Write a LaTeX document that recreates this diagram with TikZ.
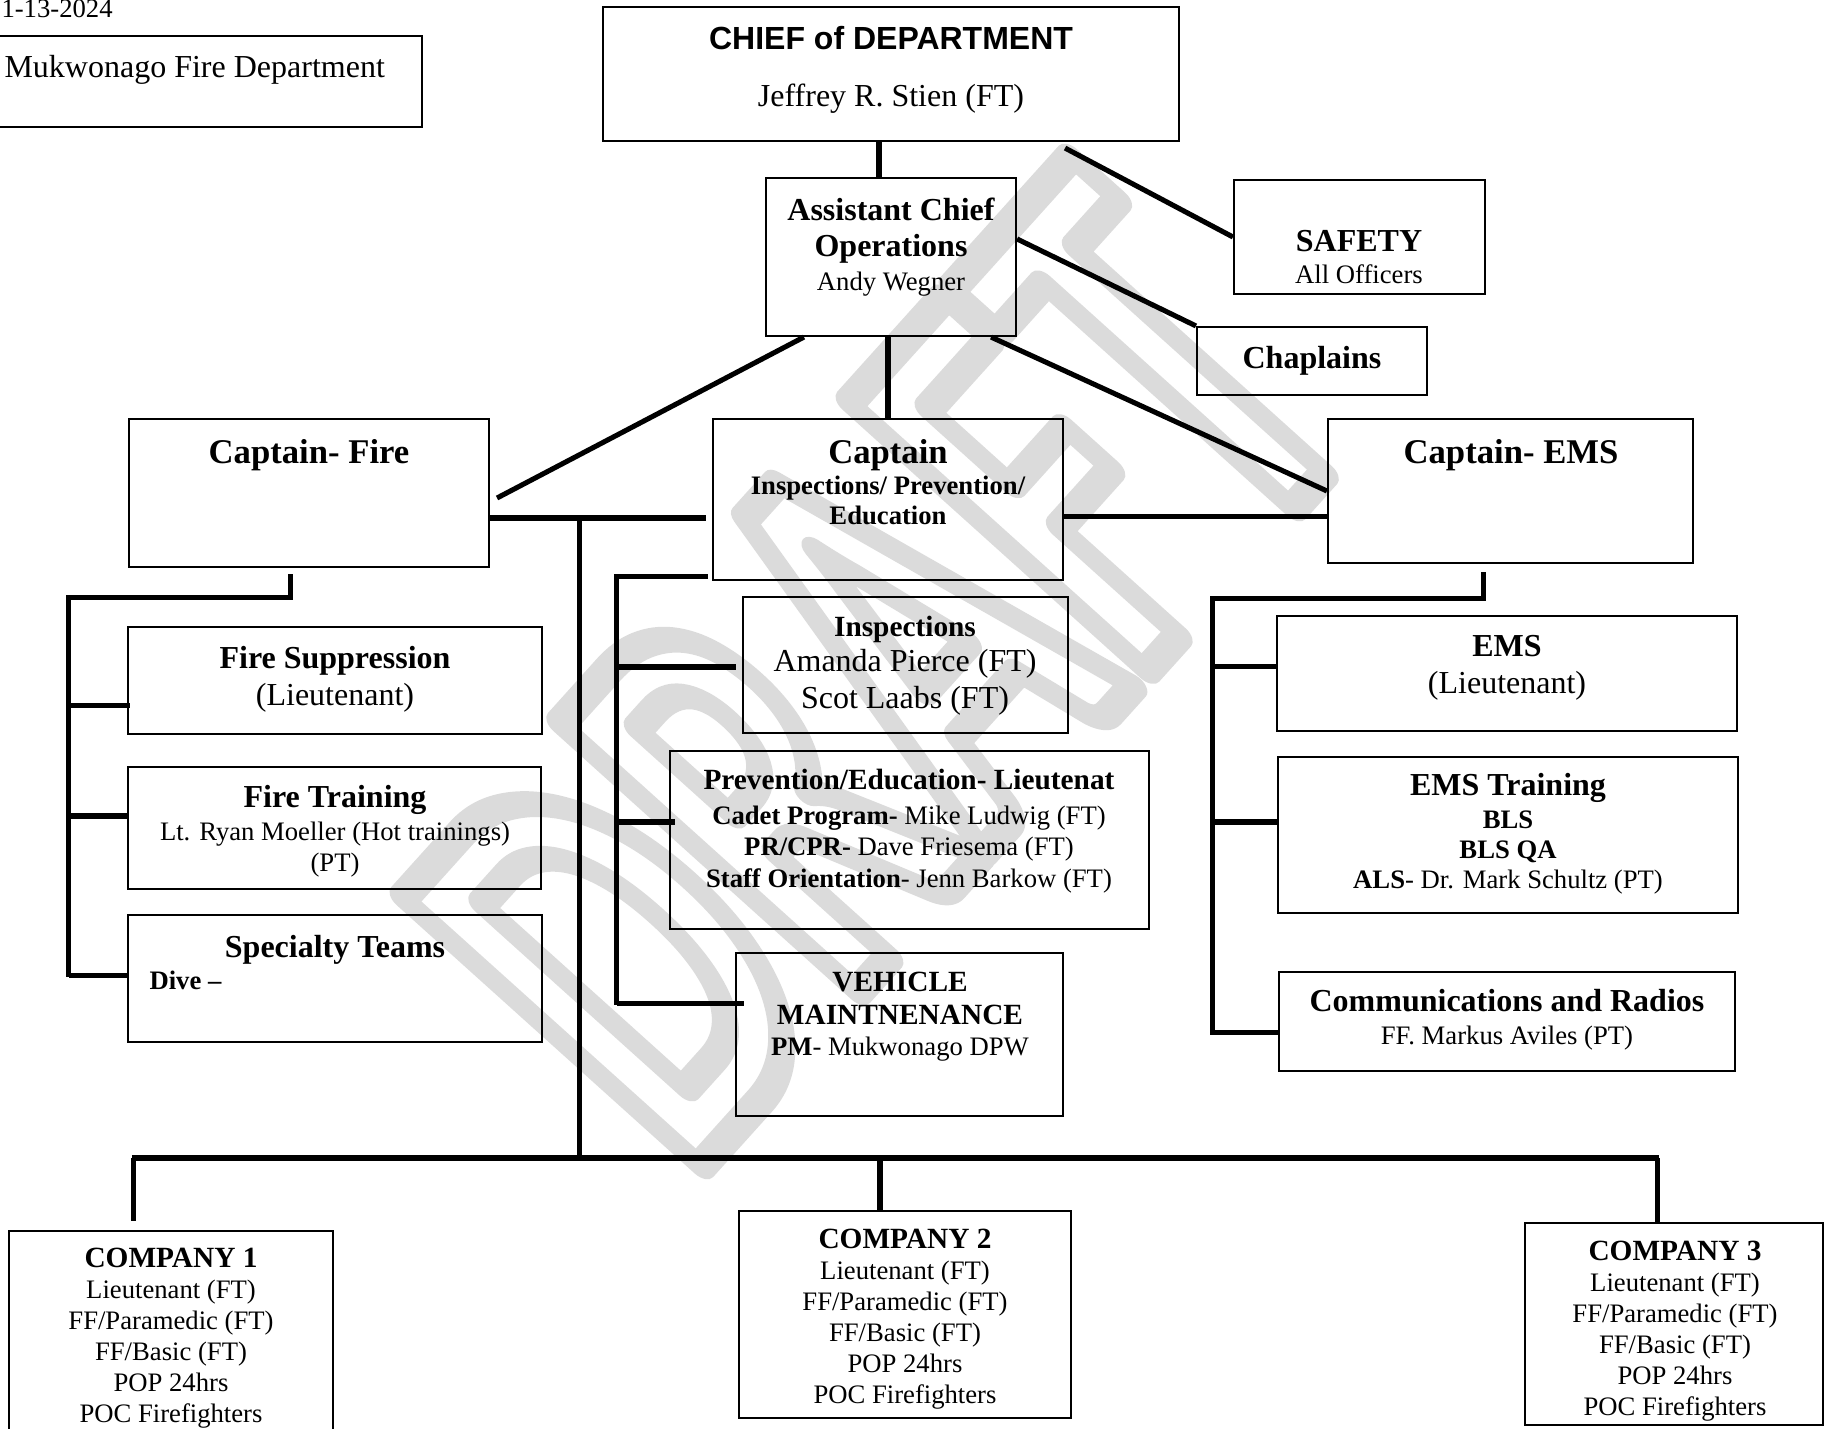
\documentclass[tikz,border=0pt]{standalone}
\usepackage{fontspec}
\setmainfont{Liberation Serif}
\newfontfamily\arialfont{Liberation Sans}
\newfontfamily\wmfont{Carlito}
\usetikzlibrary{calc, fit}
\newcommand\capsz{\fontsize{13}{15}\selectfont\bfseries}
\newcommand\hdsz{\fontsize{12}{13.8}\selectfont\bfseries}
\newcommand\midsz{\fontsize{11}{12.6}\selectfont\bfseries}
\newcommand\smsz{\fontsize{10}{11.6}\selectfont}
\newcommand\hollow[1]{\special{pdf:literal direct 1 Tr 12 w 1 j}#1\special{pdf:literal direct 0 Tr}}

\begin{document}
\begin{tikzpicture}[x=0.375pt, y=-0.375pt,
    box/.style={draw, line width=0.8pt, inner sep=0pt},
    txt/.style={align=center, inner sep=0pt, font=\fontsize{12}{#1}\selectfont},
    txt/.default=13.8,
    conn/.style={line width=1.9pt},
    mainbar/.style={line width=2.3pt}]
\useasboundingbox (0,0) rectangle (1825,1429);

% --- watermark ---
\begin{scope}[shift={(880,668)}, rotate=48, xscale=0.6]
\node[transform shape, inner sep=0pt, text=gray!28,
  font=\wmfont\bfseries\fontsize{232}{232}\selectfont] (draft) {\hollow{DRAFT}};
\end{scope}

% --- header ---
\node[txt, anchor=base west, font=\smsz] (date) at (1,18) {1-13-2024};
\node[box, fit={(-10,36)(422,127)}] (mfd) {};
\node[txt, anchor=west] (mfd-txt) at (4,70) {Mukwonago Fire Department};

% --- command staff ---
\node[box, fit={(603,7)(1179,141)}] (chief) {};
\node[txt] (chief-txt) at (891,70) {%
  {\arialfont\bfseries CHIEF of DEPARTMENT}\\[7.6pt] Jeffrey R. Stien (FT)};
\node[box, fit={(766,178)(1016,336)}] (asst) {};
\node[txt=12.6] (asst-txt) at (891,247) {%
  {\hdsz Assistant Chief}\\[0.9pt]{\hdsz Operations}\\{\smsz Andy Wegner}};
\node[box, fit={(1234,180)(1485,294)}] (safety) {};
\node[txt=12.2] (safety-txt) at (1359,257) {{\hdsz SAFETY}\\{\smsz All Officers}};
\node[box, fit={(1197,327)(1427,395)}] (chap) {};
\node[txt] (chap-txt) at (1312,361) {{\hdsz Chaplains}};

% --- captains ---
\node[box, fit={(129,419)(489,567)}] (capfire) {};
\node[txt] (capfire-txt) at (309,455) {{\capsz Captain- Fire}};
\node[box, fit={(713,419)(1063,580)}] (capctr) {};
\node[txt=11.3] (capctr-txt) at (888,482) {%
  {\capsz Captain}\\[0.5pt]{\smsz\bfseries Inspections/ Prevention/}\\{\smsz\bfseries Education}};
\node[box, fit={(1328,419)(1693,563)}] (capems) {};
\node[txt] (capems-txt) at (1511,455) {{\capsz Captain- EMS}};

% --- fire divisions ---
\node[box, fit={(128,627)(542,734)}] (supp) {};
\node[txt=14] (supp-txt) at (335,679) {{\hdsz Fire Suppression}\\(Lieutenant)};
\node[box, fit={(128,767)(541,889)}] (ftrain) {};
\node[txt=11.4] (ftrain-txt) at (335,831) {%
  {\hdsz Fire Training}\\[1.2pt]{\smsz Lt. Ryan Moeller (Hot trainings)}\\{\smsz (PT)}};
\node[box, fit={(128,915)(542,1042)}] (spec) {};
\node[txt] (spec-txt) at (335,950) {{\hdsz Specialty Teams}};
\node[txt, anchor=west, font=\smsz\bfseries] (dive) at (149,980) {Dive –};

% --- inspections / prevention ---
\node[box, fit={(743,597)(1068,733)}] (insp) {};
\node[txt=13.1] (insp-txt) at (905,666) {%
  {\midsz Inspections}\\Amanda Pierce (FT)\\[0.9pt]Scot Laabs (FT)};
\node[box, fit={(670,751)(1149,929)}] (prev) {};
\node[txt=11.8] (prev-txt) at (909,831) {%
  {\midsz Prevention/Education- Lieutenat}\\[1.3pt]
  {\smsz\textbf{Cadet Program-} Mike Ludwig (FT)}\\
  {\smsz\textbf{PR/CPR-} Dave Friesema (FT)}\\
  {\smsz\textbf{Staff Orientation}- Jenn Barkow (FT)}};
\node[box, fit={(736,953)(1063,1116)}] (veh) {};
\node[txt=11.8] (veh-txt) at (900,1017) {%
  {\midsz VEHICLE}\\[0.4pt]{\midsz MAINTNENANCE}\\{\smsz\textbf{PM}- Mukwonago DPW}};

% --- EMS divisions ---
\node[box, fit={(1277,616)(1737,731)}] (ems) {};
\node[txt=14] (ems-txt) at (1507,668) {{\hdsz EMS}\\(Lieutenant)};
\node[box, fit={(1278,757)(1738,913)}] (emstr) {};
\node[txt=11.35] (emstr-txt) at (1508,834) {%
  {\hdsz EMS Training}\\[0.9pt]{\smsz\bfseries BLS}\\{\smsz\bfseries BLS QA}\\
  {\smsz\textbf{ALS}- Dr. Mark Schultz (PT)}};
\node[box, fit={(1279,972)(1735,1071)}] (comm) {};
\node[txt=12.2] (comm-txt) at (1507,1020) {%
  {\hdsz Communications and Radios}\\{\smsz FF. Markus Aviles (PT)}};

% --- companies ---
\node[box, fit={(9,1231)(333,1460)}] (comp1) {};
\node[box, fit={(739,1211)(1071,1418)}] (comp2) {};
\node[box, fit={(1525,1223)(1823,1425)}] (comp3) {};
\foreach \n/\cx/\cy in {1/171/1338, 2/905/1319, 3/1675/1331}
  \node[txt, font=\smsz] (comp\n-txt) at (\cx,\cy) {%
    {\midsz COMPANY \n}\\[0.2pt]Lieutenant (FT)\\FF/Paramedic (FT)\\FF/Basic (FT)\\POP 24hrs\\POC Firefighters};

% --- connectors: top ---
\draw[conn] ($(chief.south)+(-12,0)$) -- ($(asst.north)+(-12,0)$);
\draw[conn] ($(chief.south east)+(-115,6)$) -- (safety.west);
\draw[conn] ($(asst.east)+(0,-18)$) -- (chap.north west);
\draw[conn] ($(asst.south west)+(39,0)$) -- ($(capfire.east)+(7,5)$);
\draw[conn] (capctr.north |- asst.south) -- (capctr.north);
\draw[conn] ($(asst.south east)+(-26,0)$) -- (capems.west);
\coordinate (jf) at ($(capfire.east)+(0,25)$);
\draw[conn] (jf) -- ($(jf -| capctr.west)+(-6,0)$);
\coordinate (je) at ($(capctr.east)+(0,17)$);
\draw[conn] (je) -- (je -| capems.west);

% --- connectors: companies ---
\coordinate (bar) at ($(comp2.north)+(0,-52)$);
\coordinate (jt) at ($(jf)+(89,0)$);
\draw[conn] (jt) -- (jt |- bar);
\draw[mainbar] ($(bar -| comp1.north west)+(124,0)$) -- ($(bar -| comp3.north west)+(135,0)$);
\coordinate (d1) at ($(comp1.north west)+(126,-9)$);
\coordinate (d2) at ($(comp2.north)+(-25,0)$);
\coordinate (d3) at ($(comp3.north west)+(134,1)$);
\foreach \d in {d1,d2,d3}{\draw[conn] (\d |- bar) -- (\d);}

% --- connectors: branches ---
\coordinate (lf) at ($(capfire.south west)+(163,6)$);
\draw[conn] (lf) -- ++(0,23) -- ++(-222,0) coordinate (tl) -- ++(0,380);
\foreach \b/\dx/\dy in {supp/3/25, ftrain/0/-12, spec/0/-3}
  \draw[conn] ($(\b.west)+(\dx,\dy)$) coordinate (s) -- (s -| tl);
\coordinate (lm) at ($(capctr.south west)+(-4,-5)$);
\draw[conn] (lm) -- ++(-91,0) coordinate (tm) -- ++(0,429);
\foreach \b/\dx/\dy in {insp/-6/2, prev/6/-18, veh/9/-31}
  \draw[conn] ($(\b.west)+(\dx,\dy)$) coordinate (s) -- (s -| tm);
\coordinate (rf) at ($(capems.south west)+(157,8)$);
\draw[conn] (rf) -- ++(0,26) -- ++(-271,0) coordinate (tr) -- ++(0,437);
\foreach \b/\dy in {ems/-7, emstr/-13, comm/11}
  \draw[conn] ($(\b.west)+(0,\dy)$) coordinate (s) -- (s -| tr);
\end{tikzpicture}
\end{document}
